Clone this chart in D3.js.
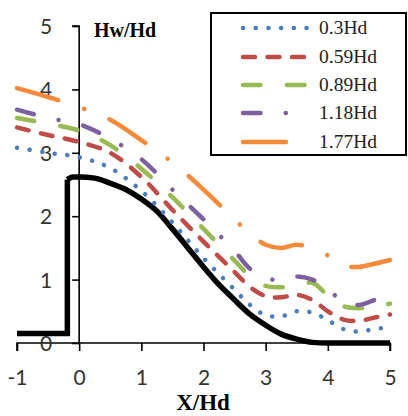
<!DOCTYPE html>
<html>
<head>
<meta charset="utf-8">
<script src="https://cdn.jsdelivr.net/npm/d3@7"></script>
<style>
  body { margin: 0; background: #fff; }
  svg { display: block; }
</style>
</head>
<body>
<div id="chart"></div>
<script>
// x positions shared by the five water-surface series (X/Hd)
const xGrid = [-1, -0.5, 0, 0.5, 1, 1.5, 2, 2.5, 2.75, 3, 3.25, 3.5, 3.75, 4, 4.25, 4.5, 4.75, 5];

const seriesNames = ["0.3Hd", "0.59Hd", "0.89Hd", "1.18Hd", "1.77Hd"];
const hw03  = [3.08, 3.0, 2.93, 2.76, 2.4, 1.9, 1.34, 0.84, 0.6, 0.44, 0.42, 0.5, 0.48, 0.36, 0.22, 0.18, 0.22, 0.25];
const hw059 = [3.4, 3.28, 3.17, 3.0, 2.62, 2.1, 1.6, 1.12, 0.88, 0.74, 0.72, 0.76, 0.68, 0.5, 0.37, 0.35, 0.4, 0.45];
const hw089 = [3.55, 3.46, 3.35, 3.12, 2.75, 2.3, 1.8, 1.3, 1.05, 0.9, 0.88, 0.9, 0.95, 0.75, 0.58, 0.55, 0.58, 0.62];
const hw118 = [3.68, 3.55, 3.45, 3.22, 2.9, 2.42, 1.95, 1.45, 1.17, 1.02, 1.0, 1.05, 1.0, 0.85, 0.65, 0.6, 0.68, 0.77];
const hw177 = [4.02, 3.88, 3.72, 3.52, 3.2, 2.85, 2.42, 1.95, 1.72, 1.55, 1.5, 1.55, 1.5, 1.38, 1.22, 1.2, 1.25, 1.31];

// weir profile (black)
const profileX = [-1, -0.19, -0.19, -0.1, 0, 0.25, 0.5, 0.75, 1.0, 1.25, 1.5, 1.75, 2.0, 2.25, 2.5, 2.75, 3.0, 3.25, 3.5, 3.75, 4, 5];
const profileY = [0.15, 0.15, 2.58, 2.62, 2.62, 2.6, 2.52, 2.42, 2.27, 2.08, 1.8, 1.5, 1.2, 0.92, 0.68, 0.45, 0.28, 0.14, 0.06, 0.01, 0, 0];

const xTicks = [-1, 0, 1, 2, 3, 4, 5];
const yTicks = [0, 1, 2, 3, 4, 5];

const colors = ["#4a7ebb", "#be4b48", "#98b954", "#7d60a0", "#f58a3a"];
const dashes = ["0.1,12.6", "12,12.5", "17.5,26.5", "17.5,25.25,0.1,25.25", "43,27.25,0.1,27.25"];

const width = 408, height = 416;

const svg = d3.select("#chart").append("svg")
  .attr("width", width)
  .attr("height", height);

const x = d3.scaleLinear().domain([-1, 5]).range([17, 390]);
const y = d3.scaleLinear().domain([0, 5]).range([343, 26]);

// axes
const gX = svg.append("g")
  .attr("transform", `translate(0,${y(0)})`)
  .call(d3.axisBottom(x).tickValues(xTicks).tickSize(8).tickPadding(19).tickFormat(d => String(d)));
const gY = svg.append("g")
  .attr("transform", `translate(${x(0)},0)`)
  .call(d3.axisLeft(y).tickValues(yTicks).tickSize(7).tickPadding(20).tickFormat(d => String(d)));

[gX, gY].forEach(g => {
  g.selectAll(".domain").attr("stroke", "#000").attr("stroke-width", 1.6);
  g.selectAll(".tick line").attr("stroke", "#000").attr("stroke-width", 1.6);
  g.selectAll(".tick text")
    .attr("fill", "#333")
    .style("font-family", "Lato, 'Open Sans', sans-serif")
    .style("font-size", "21px");
});
gX.select(".domain").attr("d", `M${x(-1)},8V0H${x(5)}V8`);
gY.select(".domain").attr("d", `M-7,${y(5)}H0V${y(0)}`);
gY.selectAll(".tick text").attr("dy", "0.36em");

// profile
const linear = d3.line().x(d => x(d[0])).y(d => y(d[1]));
const smooth = d3.line().curve(d3.curveMonotoneX).x(d => x(d[0])).y(d => y(d[1]));
const prof = profileX.map((v, i) => [v, profileY[i]]);

svg.append("path")
  .attr("d", linear(prof.slice(0, 3)))
  .attr("fill", "none").attr("stroke", "#000").attr("stroke-width", 5.5)
  .attr("stroke-linejoin", "miter");
svg.append("path")
  .attr("d", smooth(prof.slice(2)))
  .attr("fill", "none").attr("stroke", "#000").attr("stroke-width", 5.5)
  .attr("stroke-linejoin", "round");

// water surfaces
const series = [hw03, hw059, hw089, hw118, hw177];
const curve = d3.line().curve(d3.curveCatmullRom.alpha(0.5)).x(d => x(d[0])).y(d => y(d[1]));

series.forEach((vals, i) => {
  svg.append("path")
    .attr("d", curve(xGrid.map((v, j) => [v, vals[j]])))
    .attr("fill", "none")
    .attr("stroke", colors[i])
    .attr("stroke-width", 4.5)
    .attr("stroke-linecap", "round")
    .attr("stroke-dasharray", dashes[i]);
});

// axis titles
svg.append("text")
  .attr("x", 94).attr("y", 37)
  .style("font-family", "'Liberation Serif', 'Times New Roman', serif")
  .style("font-weight", "bold")
  .style("font-size", "20px")
  .text("Hw/Hd");

svg.append("text")
  .attr("x", 203).attr("y", 410)
  .attr("text-anchor", "middle")
  .style("font-family", "'Liberation Serif', 'Times New Roman', serif")
  .style("font-weight", "bold")
  .style("font-size", "23px")
  .text("X/Hd");

// legend
const legend = svg.append("g");
legend.append("rect")
  .attr("x", 211).attr("y", 13)
  .attr("width", 195).attr("height", 142)
  .attr("fill", "#fff").attr("stroke", "#000").attr("stroke-width", 2);

const legendY = [28, 57, 85, 113, 142];
seriesNames.forEach((name, i) => {
  legend.append("line")
    .attr("x1", 243).attr("x2", 310)
    .attr("y1", legendY[i]).attr("y2", legendY[i])
    .attr("stroke", colors[i])
    .attr("stroke-width", 4.5)
    .attr("stroke-linecap", "round")
    .attr("stroke-dasharray", dashes[i]);
  legend.append("text")
    .attr("x", 319).attr("y", legendY[i] + 6)
    .style("font-family", "'Liberation Serif', 'Times New Roman', serif")
    .style("font-size", "19.5px")
    .attr("fill", "#222")
    .text(name);
});
</script>
</body>
</html>
